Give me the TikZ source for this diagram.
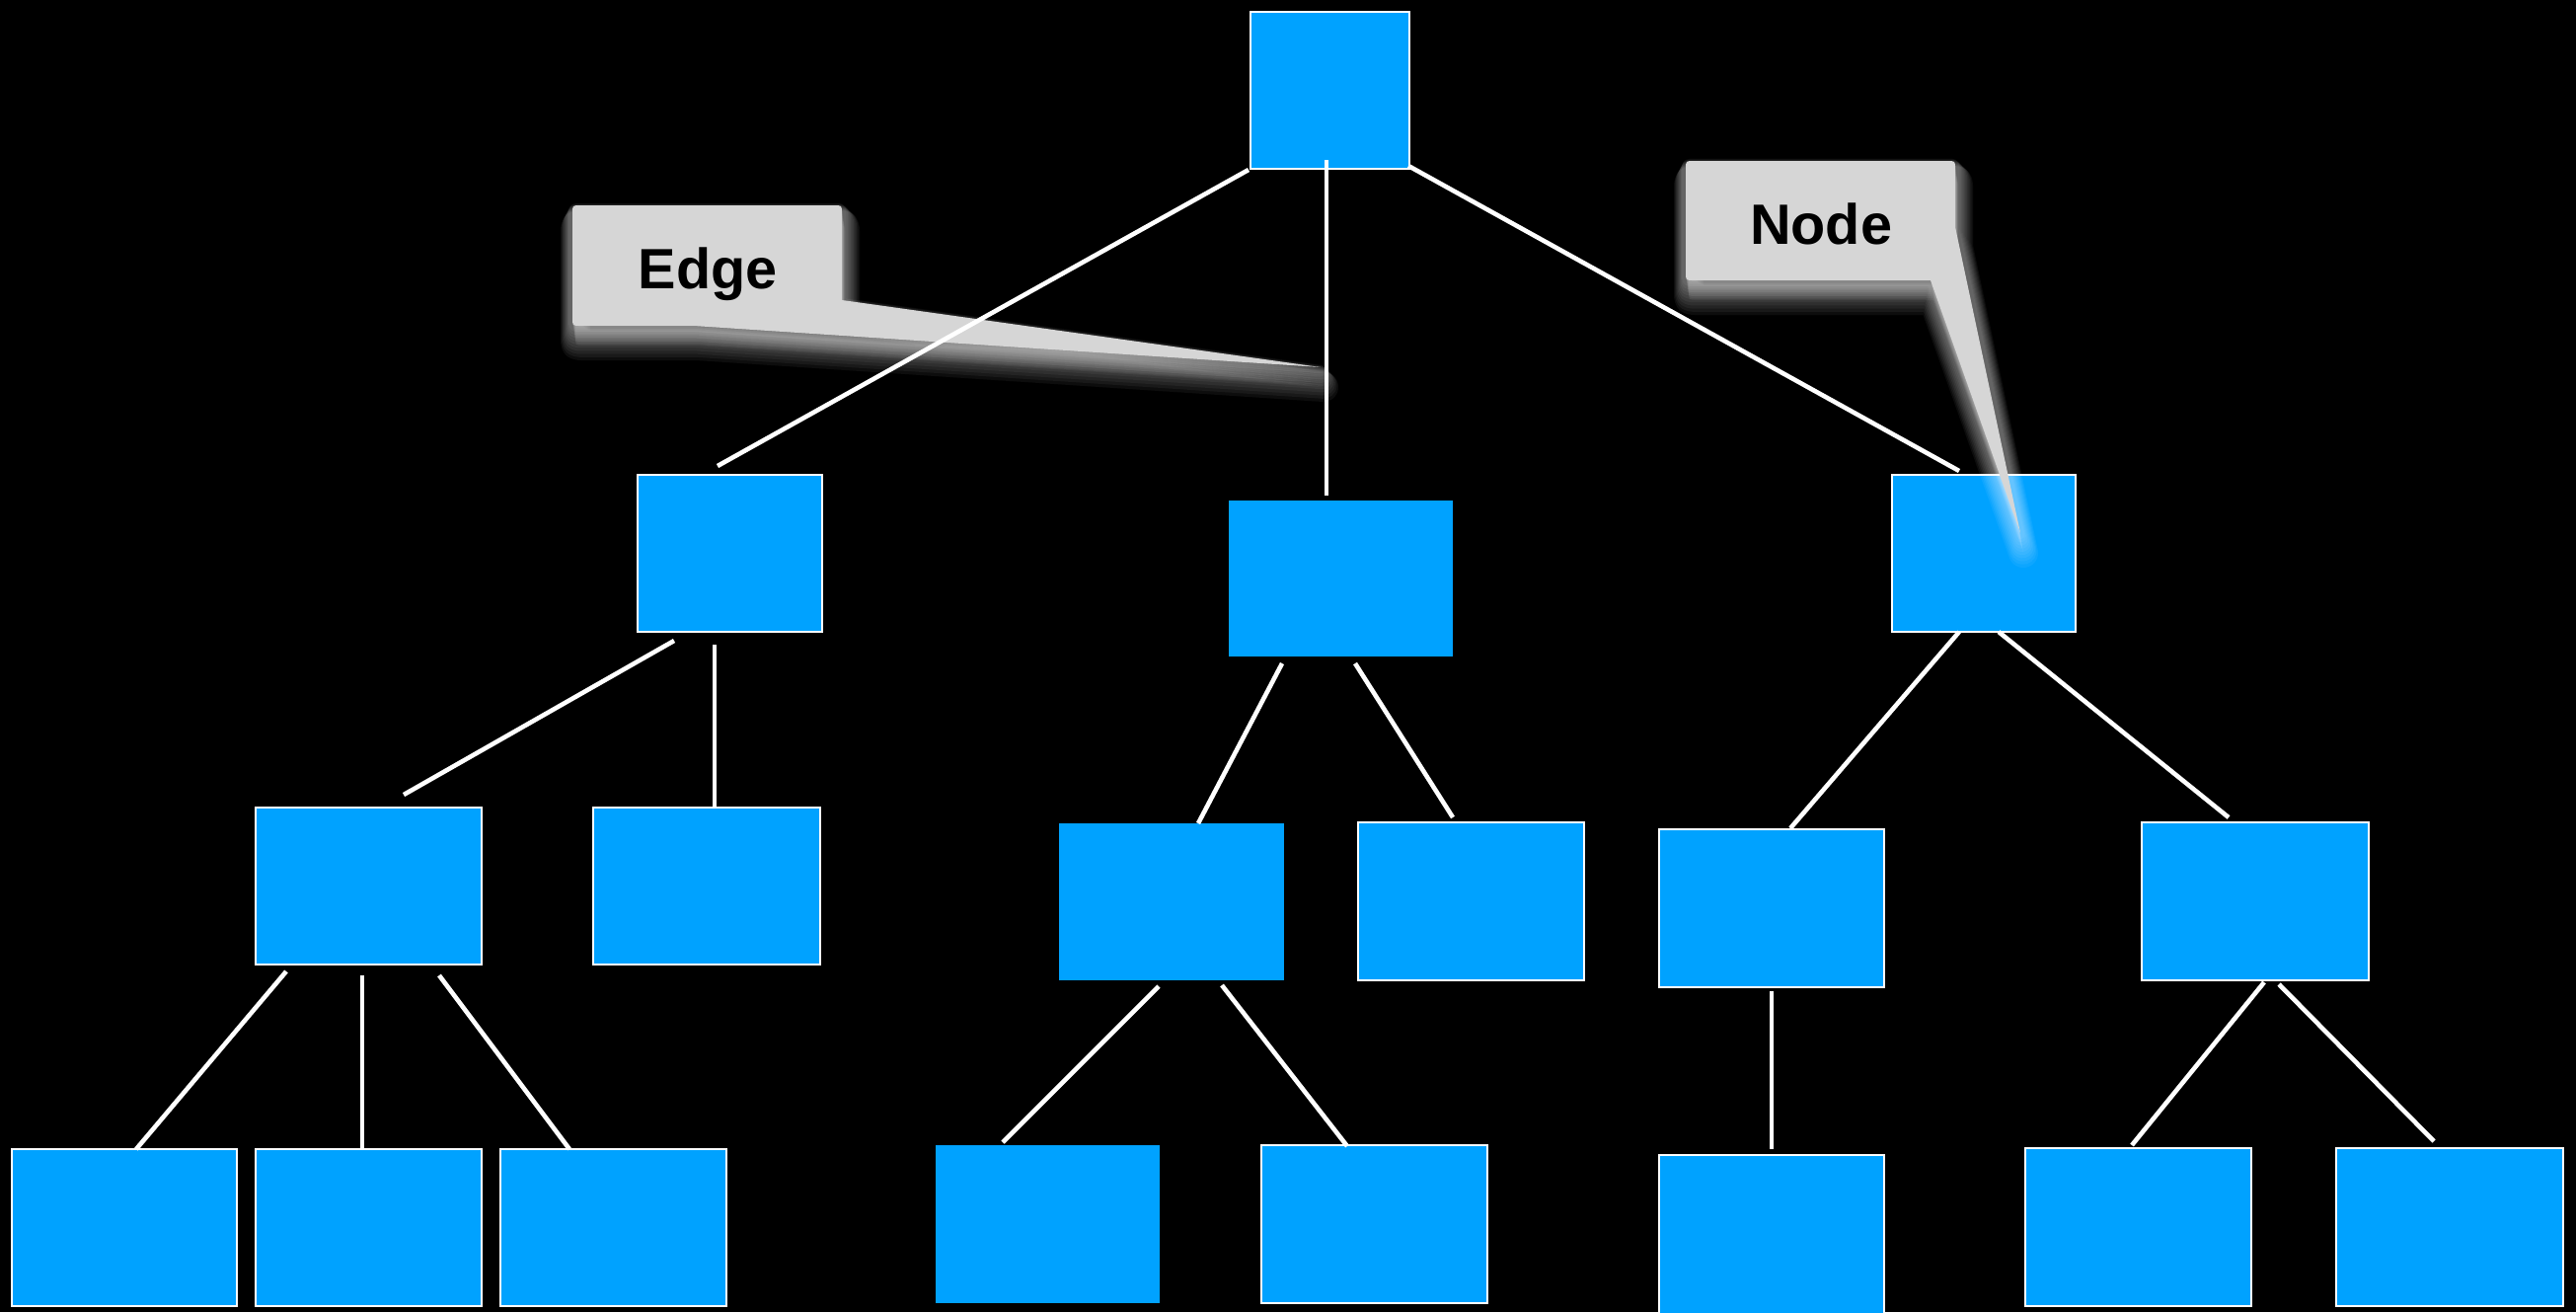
\documentclass[tikz,border=0pt]{standalone}
\usepackage{fontspec}
\setmainfont{Liberation Sans}
\usetikzlibrary{calc}

\definecolor{treeblue}{RGB}{0,162,255}
\definecolor{calloutgray}{RGB}{214,214,214}

\tikzset{
  treenode/.style={fill=treeblue, draw=white, line width=1pt, inner sep=0pt, outer sep=0pt},
  treenodeplain/.style={fill=treeblue, draw=none, inner sep=0pt, outer sep=0pt},
  treeedge/.style={draw=white, line width=2.3pt, line cap=butt},
  calloutbody/.style={fill=calloutgray, draw=none},
  calloutglow/.style={fill=white, draw=white, opacity=0.05, line join=round},
  callouttext/.style={font=\bfseries\fontsize{28.8}{32}\selectfont, text=black, inner sep=0pt, anchor=base},
}

% box given by its corners on a pixel grid: name, style, x1, y1, x2, y2
\newcommand\treebox[6]{%
  \node[#2, minimum width={(#5-#3)*0.5pt}, minimum height={(#6-#4)*0.5pt}] (#1) at ({(#3+#5)/2},{(#4+#6)/2}) {};}

% outlines of the two speech bubbles
\newcommand\edgebubble{(580,216) .. controls (580,208) .. (588,208) -- (845,208) .. controls (853,208) .. (853,216) -- (853,304) -- (1338,372) -- (703,330) -- (588,330) .. controls (580,330) .. (580,322) -- cycle}
\newcommand\nodebubble{(1708,171) .. controls (1708,163) .. (1716,163) -- (1973,163) .. controls (1981,163) .. (1981,171) -- (1981,230) -- (2047,540) -- (1956,284) -- (1716,284) .. controls (1708,284) .. (1708,276) -- cycle}

\begin{document}
\begin{tikzpicture}[x=0.5pt, y=-0.5pt]
  \useasboundingbox (0,0) rectangle (2610,1329);
  \fill[black] (0,0) rectangle (2610,1329);

  % tree nodes
  \treebox{root}{treenode}{1267}{12}{1428}{171}
  \treebox{A}{treenode}{646}{481}{833}{640}
  \treebox{B}{treenodeplain}{1245}{507}{1472}{665}
  \treebox{C}{treenode}{1917}{481}{2103}{640}
  \treebox{D}{treenode}{259}{818}{488}{977}
  \treebox{E}{treenode}{601}{818}{831}{977}
  \treebox{F}{treenodeplain}{1073}{834}{1301}{993}
  \treebox{G}{treenode}{1376}{833}{1605}{993}
  \treebox{H}{treenode}{1681}{840}{1909}{1000}
  \treebox{I}{treenode}{2170}{833}{2400}{993}
  \treebox{J}{treenode}{12}{1164}{240}{1323}
  \treebox{K}{treenode}{259}{1164}{488}{1323}
  \treebox{L}{treenode}{507}{1164}{736}{1323}
  \treebox{M}{treenodeplain}{948}{1160}{1175}{1320}
  \treebox{N}{treenode}{1278}{1160}{1507}{1320}
  \treebox{O}{treenode}{1681}{1170}{1909}{1335}
  \treebox{P}{treenode}{2052}{1163}{2281}{1323}
  \treebox{Q}{treenode}{2367}{1163}{2597}{1323}

  % soft shadow under the speech bubbles: copies sliding down and widening
  \foreach \k in {2,4,...,20}{
    \path[calloutglow, line width={(3+0.6*\k)*1pt}, shift={(\k*0.15,\k)}] \edgebubble;
    \path[calloutglow, line width={(3+0.6*\k)*1pt}, shift={(\k*0.15,\k)}] \nodebubble;
  }

  % speech bubbles
  \fill[calloutbody] \edgebubble;
  \fill[calloutbody] \nodebubble;
  \node[callouttext] (edgelabel) at (717,292) {Edge};
  \node[callouttext] (nodelabel) at (1845,247) {Node};

  % edges
  \draw[treeedge] ($(root.south)+(-82.5,1)$) -- ($(A.north)+(-12.5,-9)$);
  \draw[treeedge] ($(root.south)+(-3.5,-9)$) -- ($(B.north)+(-14.5,-5)$);
  \draw[treeedge] ($(root.south)+(79.5,-3)$) -- ($(C.north)+(-25,-4)$);

  \draw[treeedge] ($(A.south)+(-56.5,9)$) -- ($(D.north)+(35.5,-13)$);
  \draw[treeedge] ($(A.south)+(-15.5,13)$) -- ($(E.north)+(8,0)$);

  \draw[treeedge] ($(B.south)+(-59.5,7)$) -- ($(F.north)+(27,0)$);
  \draw[treeedge] ($(B.south)+(14.5,7)$) -- ($(G.north)+(-18.5,-5)$);

  \draw[treeedge] ($(C.south)+(-25,0)$) -- ($(H.north)+(19,-1)$);
  \draw[treeedge] ($(C.south)+(15,0)$) -- ($(I.north)+(-27,-5)$);

  \draw[treeedge] ($(D.south)+(-83.5,7)$) -- ($(J.north)+(12,0)$);
  \draw[treeedge] ($(D.south)+(-6.5,11)$) -- ($(K.north)+(-6.5,0)$);
  \draw[treeedge] ($(D.south)+(71.5,11)$) -- ($(L.north)+(-44.5,0)$);

  \draw[treeedge] ($(F.south)+(-13,6)$) -- ($(M.north)+(-45.5,-3)$);
  \draw[treeedge] ($(F.south)+(51,5)$) -- ($(N.north)+(-27.5,1)$);

  \draw[treeedge] ($(H.south)+(0,4)$) -- ($(O.north)+(0,-6)$);

  \draw[treeedge] ($(I.south)+(9,2)$) -- ($(P.north)+(-6.5,-3)$);
  \draw[treeedge] ($(I.south)+(24,4)$) -- ($(Q.north)+(-16,-7)$);
\end{tikzpicture}
\end{document}
